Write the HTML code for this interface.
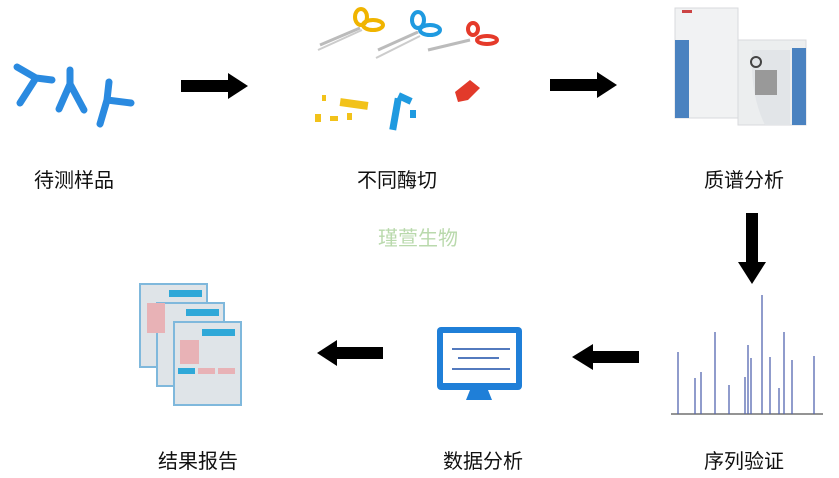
<!DOCTYPE html>
<html><head><meta charset="utf-8"><style>
html,body{margin:0;padding:0;background:#fff;}
svg{display:block;}
text{font-family:"Liberation Sans","Noto Sans CJK SC",sans-serif;}
</style></head><body>
<svg width="839" height="478" viewBox="0 0 839 478" xmlns="http://www.w3.org/2000/svg">
<rect width="839" height="478" fill="#fff"/>
<g stroke="#2a8ae0" stroke-width="7" stroke-linecap="round" fill="none">
<path d="M17 67 L36 78 L52 80 M36 78 L20 103"/>
<path d="M70 70 L70 84 M70 84 L59 109 M70 84 L84 110"/>
<path d="M109 82 L107 100 L100 124 M107 100 L131 103"/>
</g>
<polygon points="181,80 228,80 228,73 248,86 228,99 228,92 181,92" fill="#000"/>
<polygon points="550,79 597,79 597,72 617,85 597,98 597,91 550,91" fill="#000"/>
<polygon points="746,213 758,213 758,262 766,262 752,284 738,262 746,262" fill="#000"/>
<polygon points="383,347 337,347 337,340 317,353 337,366 337,359 383,359" fill="#000"/>
<polygon points="639,351 593,351 593,344 572,357 593,370 593,363 639,363" fill="#000"/>
<g>
<line x1="320" y1="45" x2="360" y2="28" stroke="#bbb" stroke-width="3"/>
<line x1="318" y1="50" x2="362" y2="30" stroke="#ccc" stroke-width="2"/>
<ellipse cx="361" cy="17" rx="6" ry="8" fill="none" stroke="#f0b400" stroke-width="4"/>
<ellipse cx="373" cy="25" rx="10" ry="5" fill="none" stroke="#f0b400" stroke-width="4"/>
<line x1="378" y1="50" x2="418" y2="32" stroke="#bbb" stroke-width="3"/>
<line x1="376" y1="58" x2="420" y2="36" stroke="#ccc" stroke-width="2"/>
<ellipse cx="418" cy="20" rx="6" ry="8" fill="none" stroke="#1f9ae0" stroke-width="4"/>
<ellipse cx="430" cy="30" rx="10" ry="5" fill="none" stroke="#1f9ae0" stroke-width="4"/>
<line x1="428" y1="50" x2="470" y2="40" stroke="#bbb" stroke-width="3"/>
<ellipse cx="473" cy="29" rx="5" ry="6" fill="none" stroke="#e53a2a" stroke-width="4"/>
<ellipse cx="487" cy="40" rx="10" ry="4" fill="none" stroke="#e53a2a" stroke-width="4"/>
</g>
<g fill="#f2c21a">
<rect x="340" y="100" width="28" height="8" transform="rotate(8 354 104)"/>
<rect x="322" y="95" width="4" height="6"/><rect x="315" y="114" width="6" height="8"/>
<rect x="330" y="116" width="8" height="5"/><rect x="347" y="113" width="5" height="7"/>
</g>
<g fill="#1f9ae0"><rect x="392" y="98" width="7" height="32" transform="rotate(10 395 114)"/><rect x="398" y="95" width="14" height="7" transform="rotate(25 405 98)"/><rect x="410" y="110" width="6" height="8"/></g>
<path d="M455 92 L470 80 L480 88 L468 100 L458 102 Z" fill="#e23a2a"/>
<rect x="675" y="8" width="63" height="110" fill="#f1f2f3" stroke="#d8dadc"/>
<rect x="675" y="40" width="14" height="78" fill="#4a82c0"/>
<rect x="738" y="40" width="68" height="85" fill="#eceeef" stroke="#d8dadc"/>
<rect x="792" y="48" width="14" height="77" fill="#4a82c0"/>
<path d="M752 50 L790 50 L790 125 L765 125 Q750 95 752 50Z" fill="#e2e5e8"/>
<rect x="755" y="70" width="22" height="25" fill="#999"/>
<circle cx="756" cy="62" r="5" fill="none" stroke="#444" stroke-width="2"/>
<rect x="682" y="10" width="10" height="3" fill="#c44"/>
<line x1="671" y1="414" x2="823" y2="414" stroke="#555" stroke-width="1.2"/>
<g stroke="#5566b0" stroke-width="1.3">
<line x1="678" y1="414" x2="678" y2="352"/><line x1="695" y1="414" x2="695" y2="378"/>
<line x1="701" y1="414" x2="701" y2="372"/><line x1="715" y1="414" x2="715" y2="332"/>
<line x1="729" y1="414" x2="729" y2="385"/><line x1="745" y1="414" x2="745" y2="377"/>
<line x1="748" y1="414" x2="748" y2="345"/><line x1="751" y1="414" x2="751" y2="358"/>
<line x1="762" y1="414" x2="762" y2="295"/><line x1="770" y1="414" x2="770" y2="357"/>
<line x1="779" y1="414" x2="779" y2="388"/><line x1="784" y1="414" x2="784" y2="332"/>
<line x1="792" y1="414" x2="792" y2="360"/><line x1="814" y1="414" x2="814" y2="356"/>
</g>
<rect x="437" y="327" width="85" height="63" rx="4" fill="#1f7fd8"/>
<rect x="443" y="333" width="73" height="50" fill="#fff"/>
<path d="M470 390 L488 390 L492 400 L466 400Z" fill="#1f7fd8"/>
<g stroke="#1a4fa8" stroke-width="1.5"><line x1="452" y1="349" x2="510" y2="349"/><line x1="458" y1="358" x2="499" y2="358"/><line x1="452" y1="369" x2="510" y2="369"/></g>
<g>
<rect x="140" y="284" width="67" height="83" fill="#dfe4e8" stroke="#7fb8dc" stroke-width="2"/>
<rect x="169" y="290" width="33" height="7" fill="#2fa8d8"/>
<rect x="157" y="303" width="67" height="83" fill="#dfe4e8" stroke="#7fb8dc" stroke-width="2"/>
<rect x="186" y="309" width="33" height="7" fill="#2fa8d8"/>
<rect x="174" y="322" width="67" height="83" fill="#dfe4e8" stroke="#7fb8dc" stroke-width="2"/>
<rect x="202" y="329" width="33" height="7" fill="#2fa8d8"/>
<rect x="147" y="303" width="18" height="30" fill="#e8b2b6"/>
<rect x="180" y="340" width="19" height="24" fill="#e8b2b6"/>
<rect x="178" y="368" width="17" height="6" fill="#2fa8d8"/>
<rect x="198" y="368" width="17" height="6" fill="#e8b2b6"/>
<rect x="218" y="368" width="17" height="6" fill="#e8b2b6"/>
</g>
<text x="418" y="245" font-size="20" fill="#a8d098" text-anchor="middle" font-family="'Noto Serif CJK SC',serif" opacity="0.8">瑾萱生物</text>
<g font-size="20" fill="#111" text-anchor="middle">
<text x="74" y="187">待测样品</text>
<text x="397" y="187">不同酶切</text>
<text x="744" y="187">质谱分析</text>
<text x="198" y="468">结果报告</text>
<text x="483" y="468">数据分析</text>
<text x="744" y="468">序列验证</text>
</g>
</svg>
</body></html>
